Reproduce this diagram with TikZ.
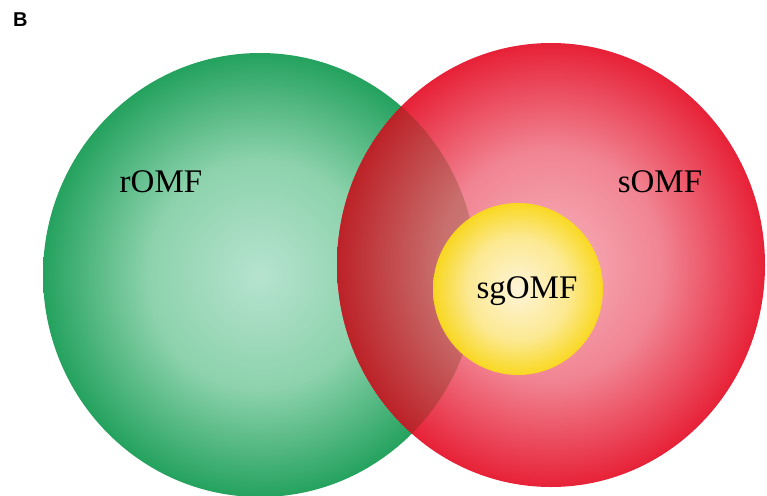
\documentclass[tikz,border=0pt]{standalone}
\usepackage{fontspec}
\setmainfont{Liberation Serif}
\newfontfamily\labelfont{Liberation Sans}
\definecolor{gin}{RGB}{182,227,207}
\definecolor{gmid}{RGB}{140,210,172}
\definecolor{gout}{RGB}{36,162,94}
\definecolor{rin}{RGB}{247,178,188}
\definecolor{rmid}{RGB}{241,132,146}
\definecolor{rout}{RGB}{231,33,55}
\definecolor{oin}{RGB}{204,148,143}
\definecolor{omid}{RGB}{200,112,110}
\definecolor{oout}{RGB}{188,34,40}
\definecolor{yin}{RGB}{255,247,218}
\definecolor{ymid}{RGB}{253,236,145}
\definecolor{yout}{RGB}{250,219,30}
\pgfdeclareradialshading{greenball}{\pgfpoint{0bp}{0bp}}{color(0bp)=(gin); color(13bp)=(gmid); color(25bp)=(gout); color(50bp)=(gout)}
\pgfdeclareradialshading{redball}{\pgfpoint{0bp}{0bp}}{color(0bp)=(rin); color(13bp)=(rmid); color(25bp)=(rout); color(50bp)=(rout)}
\pgfdeclareradialshading{lensball}{\pgfpoint{0bp}{0bp}}{color(0bp)=(oin); color(13bp)=(omid); color(25bp)=(oout); color(50bp)=(oout)}
\pgfdeclareradialshading{yellowball}{\pgfpoint{0bp}{0bp}}{color(0bp)=(yin); color(15bp)=(ymid); color(25bp)=(yout); color(50bp)=(yout)}
\tikzset{setname/.style={font=\fontsize{33}{40}\selectfont, anchor=base, inner sep=0pt}}
\begin{document}
\begin{tikzpicture}[x=1pt,y=-1pt]
    \def\circR{(260,275) ellipse [x radius=217, y radius=222]}
    \def\circS{(551,265) ellipse [x radius=214, y radius=222]}
    \def\circSG{(518,289) ellipse [x radius=85, y radius=86]}
    \useasboundingbox (0,0) rectangle (767,495);

    % rOMF
    \shade[shading=greenball] \circR;

    % sOMF
    \shade[shading=redball] \circS;

    % rOMF and sOMF
    \begin{scope}
        \clip \circR;
        \shade[shading=lensball] \circS;
    \end{scope}

    % sgOMF
    \shade[shading=yellowball, opacity=0.97] \circSG;

    % labels
    \node[setname] (rlabel) at (161,192) {rOMF};
    \node[setname] (slabel) at (660,192) {sOMF};
    \node[setname] (sglabel) at (527,298) {sgOMF};
    \node[anchor=base west, inner sep=0pt, font=\labelfont\bfseries\fontsize{20}{24}\selectfont] (panel) at (13,27) {B};
\end{tikzpicture}
\end{document}
